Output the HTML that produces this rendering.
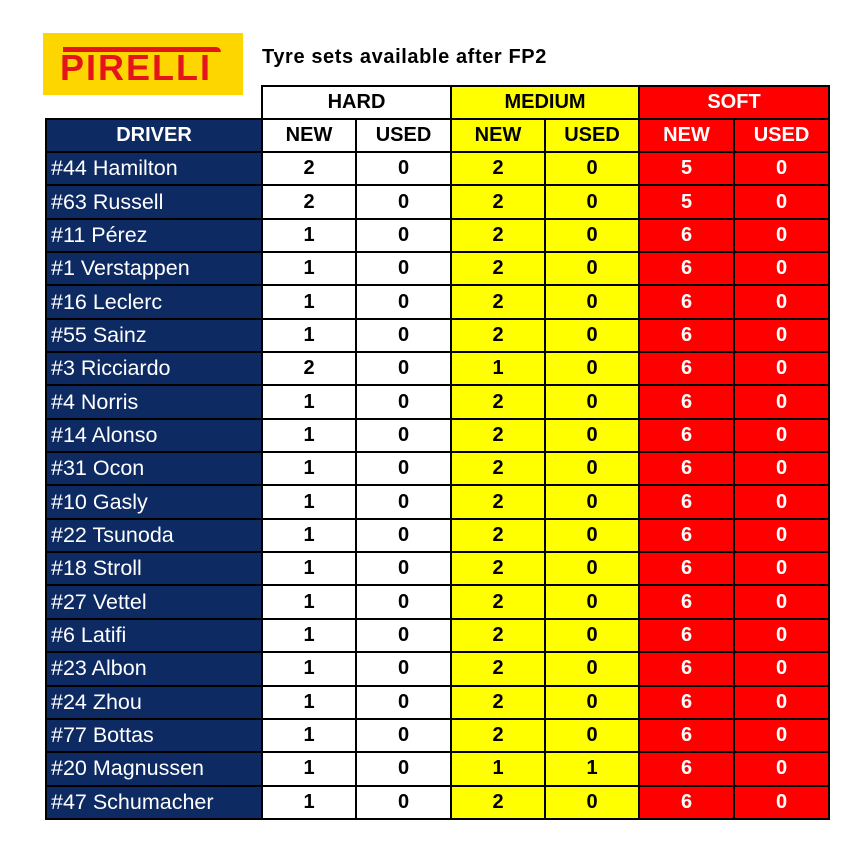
<!DOCTYPE html>
<html><head><meta charset="utf-8">
<style>
html,body{margin:0;padding:0;background:#fff;width:857px;height:867px;overflow:hidden}
body{position:relative;font-family:"Liberation Sans",sans-serif}
.logo{position:absolute;left:43px;top:33px;width:200px;height:62px;background:#fdd600;z-index:2;overflow:hidden}
.logo span{position:absolute;left:17px;top:16px;width:170px;height:38px;color:#e4141b;font-weight:bold;font-size:36px;line-height:38px;letter-spacing:2px}
.logo i{position:absolute;left:20px;top:14px;width:158px;height:5px;background:#e4141b;border-radius:0 8px 0 0}
.title{position:absolute;left:262px;top:46px;font-weight:bold;font-size:20px;letter-spacing:0.6px;color:#000}
table{position:absolute;left:45px;top:85px;border-collapse:collapse;table-layout:fixed}
td{border:2px solid #000;padding:0;height:29.4px;text-align:center;font-weight:bold;font-size:20px;color:#000;box-sizing:border-box}
td.d{background:#0d2a63;color:#fff;font-weight:normal;text-align:left;padding-left:4px;font-size:21.5px;border-color:#000}
td.h{background:#0d2a63;color:#fff;text-align:center;font-weight:bold}
.y{background:#ffff00}
.r{background:#ff0000;color:#fff}
.w{background:#fff}
td.blank{border:none;border-bottom:2px solid #000;background:transparent}
</style></head><body>
<div class="logo"><i></i><span>PIRELLI</span></div>
<div class="title">Tyre sets available after FP2</div>
<table>
<colgroup><col style="width:216px"><col style="width:94px"><col style="width:95px"><col style="width:94px"><col style="width:94px"><col style="width:95px"><col style="width:95px"></colgroup>
<tr style="height:33px"><td class="blank"></td><td colspan="2" class="w">HARD</td><td colspan="2" class="y">MEDIUM</td><td colspan="2" class="r">SOFT</td></tr>
<tr style="height:33px"><td class="h">DRIVER</td><td class="w">NEW</td><td class="w">USED</td><td class="y">NEW</td><td class="y">USED</td><td class="r">NEW</td><td class="r">USED</td></tr>
<tr style="height:33.35px"><td class="d">#44 Hamilton</td><td>2</td><td>0</td><td class="y">2</td><td class="y">0</td><td class="r">5</td><td class="r">0</td></tr>
<tr style="height:33.35px"><td class="d">#63 Russell</td><td>2</td><td>0</td><td class="y">2</td><td class="y">0</td><td class="r">5</td><td class="r">0</td></tr>
<tr style="height:33.35px"><td class="d">#11 Pérez</td><td>1</td><td>0</td><td class="y">2</td><td class="y">0</td><td class="r">6</td><td class="r">0</td></tr>
<tr style="height:33.35px"><td class="d">#1 Verstappen</td><td>1</td><td>0</td><td class="y">2</td><td class="y">0</td><td class="r">6</td><td class="r">0</td></tr>
<tr style="height:33.35px"><td class="d">#16 Leclerc</td><td>1</td><td>0</td><td class="y">2</td><td class="y">0</td><td class="r">6</td><td class="r">0</td></tr>
<tr style="height:33.35px"><td class="d">#55 Sainz</td><td>1</td><td>0</td><td class="y">2</td><td class="y">0</td><td class="r">6</td><td class="r">0</td></tr>
<tr style="height:33.35px"><td class="d">#3 Ricciardo</td><td>2</td><td>0</td><td class="y">1</td><td class="y">0</td><td class="r">6</td><td class="r">0</td></tr>
<tr style="height:33.35px"><td class="d">#4 Norris</td><td>1</td><td>0</td><td class="y">2</td><td class="y">0</td><td class="r">6</td><td class="r">0</td></tr>
<tr style="height:33.35px"><td class="d">#14 Alonso</td><td>1</td><td>0</td><td class="y">2</td><td class="y">0</td><td class="r">6</td><td class="r">0</td></tr>
<tr style="height:33.35px"><td class="d">#31 Ocon</td><td>1</td><td>0</td><td class="y">2</td><td class="y">0</td><td class="r">6</td><td class="r">0</td></tr>
<tr style="height:33.35px"><td class="d">#10 Gasly</td><td>1</td><td>0</td><td class="y">2</td><td class="y">0</td><td class="r">6</td><td class="r">0</td></tr>
<tr style="height:33.35px"><td class="d">#22 Tsunoda</td><td>1</td><td>0</td><td class="y">2</td><td class="y">0</td><td class="r">6</td><td class="r">0</td></tr>
<tr style="height:33.35px"><td class="d">#18 Stroll</td><td>1</td><td>0</td><td class="y">2</td><td class="y">0</td><td class="r">6</td><td class="r">0</td></tr>
<tr style="height:33.35px"><td class="d">#27 Vettel</td><td>1</td><td>0</td><td class="y">2</td><td class="y">0</td><td class="r">6</td><td class="r">0</td></tr>
<tr style="height:33.35px"><td class="d">#6 Latifi</td><td>1</td><td>0</td><td class="y">2</td><td class="y">0</td><td class="r">6</td><td class="r">0</td></tr>
<tr style="height:33.35px"><td class="d">#23 Albon</td><td>1</td><td>0</td><td class="y">2</td><td class="y">0</td><td class="r">6</td><td class="r">0</td></tr>
<tr style="height:33.35px"><td class="d">#24 Zhou</td><td>1</td><td>0</td><td class="y">2</td><td class="y">0</td><td class="r">6</td><td class="r">0</td></tr>
<tr style="height:33.35px"><td class="d">#77 Bottas</td><td>1</td><td>0</td><td class="y">2</td><td class="y">0</td><td class="r">6</td><td class="r">0</td></tr>
<tr style="height:33.35px"><td class="d">#20 Magnussen</td><td>1</td><td>0</td><td class="y">1</td><td class="y">1</td><td class="r">6</td><td class="r">0</td></tr>
<tr style="height:33.35px"><td class="d">#47 Schumacher</td><td>1</td><td>0</td><td class="y">2</td><td class="y">0</td><td class="r">6</td><td class="r">0</td></tr>
</table>
</body></html>
